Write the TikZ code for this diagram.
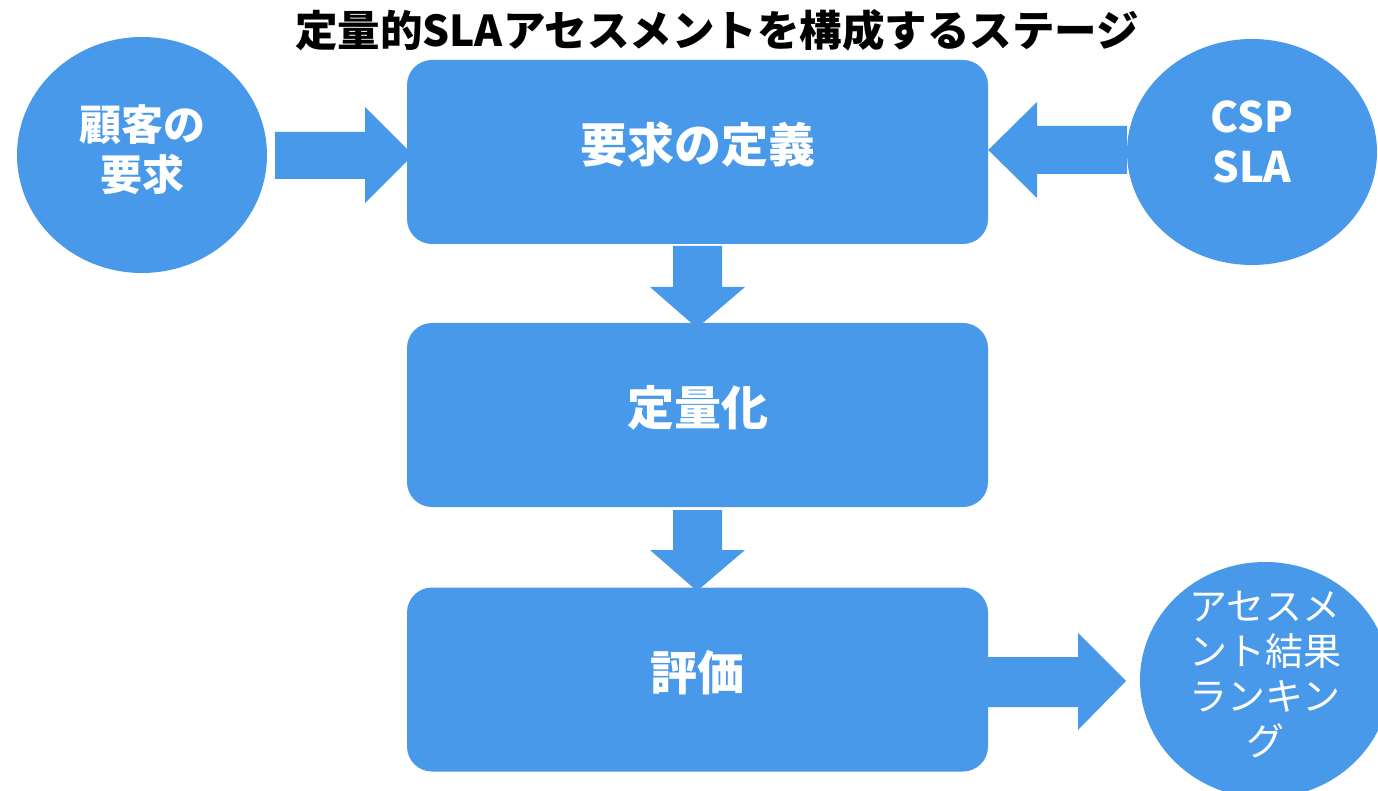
\documentclass[tikz,border=0pt]{standalone}
\usepackage{fontspec}
\setmainfont{Noto Sans CJK JP}
\usetikzlibrary{shapes.geometric}
\definecolor{myblue}{RGB}{72,153,234}
\begin{document}
\begin{tikzpicture}[x=1pt,y=-1pt,
  blk/.style={fill=myblue,draw=none},
  stagebox/.style={blk,rounded corners=25pt,minimum width=581pt,minimum height=184pt,inner sep=0pt},
  oval/.style={blk,ellipse,minimum width=250pt,minimum height=236pt,inner sep=0pt},
  boxtext/.style={text=white,font=\bfseries\fontsize{47}{52}\selectfont},
  ovaltext/.style={text=white,align=center,font=\bfseries\fontsize{42}{50}\selectfont},
  rtext/.style={text=white,align=center,font=\fontsize{38}{45}\selectfont}]
\useasboundingbox (0,0) rectangle (1378,791);
\begin{scope}
\clip (0,0) rectangle (1378,791);
% title
\node[font=\bfseries\fontsize{42.5}{48}\selectfont] (title) at (717,30) {定量的SLAアセスメントを構成するステージ};
% stage boxes
\node[stagebox] (def) at (697.5,152) {};
\node[stagebox] (quant) at (697.5,415) {};
\node[stagebox] (eval) at (697.5,679.5) {};
\node[boxtext] at ([yshift=7pt]def.center) {要求の定義};
\node[boxtext] at ([yshift=7pt]quant.center) {定量化};
\node[boxtext] at ([yshift=7pt]eval.center) {評価};
% ovals
\node[oval] (cust) at (142,155) {};
\node[oval,minimum height=226pt] (csp) at (1252,152) {};
\node[oval] (res) at (1265,680) {};
\node[ovaltext] at (142,150) {顧客の\\要求};
\node[ovaltext] at (1252,142) {CSP\\SLA};
\node[rtext] at (1265,675) {アセスメ\\ント結果\\ランキン\\グ};
% block arrows
\fill[myblue] (275,132) -- (365,132) -- (365,107) -- (413,155) -- (365,203) -- (365,179) -- (275,179) -- cycle;
\fill[myblue] (csp.west |- 0,126) -- (1037,126) -- (1037,102) -- (def.east |- 0,150) -- (1037,198) -- (1037,174) -- (csp.west |- 0,174) -- cycle;
\fill[myblue] (673,246) -- (722,246) -- (722,287) -- (745,287) -- (697,328) -- (650,287) -- (673,287) -- cycle;
\fill[myblue] (673,510) -- (722,510) -- (722,550) -- (745,550) -- (697,591) -- (650,550) -- (673,550) -- cycle;
\fill[myblue] (eval.east |- 0,657) -- (1078,657) -- (1078,633) -- (1126,681) -- (1078,730) -- (1078,707) -- (eval.east |- 0,707) -- cycle;
\end{scope}
\end{tikzpicture}
\end{document}
